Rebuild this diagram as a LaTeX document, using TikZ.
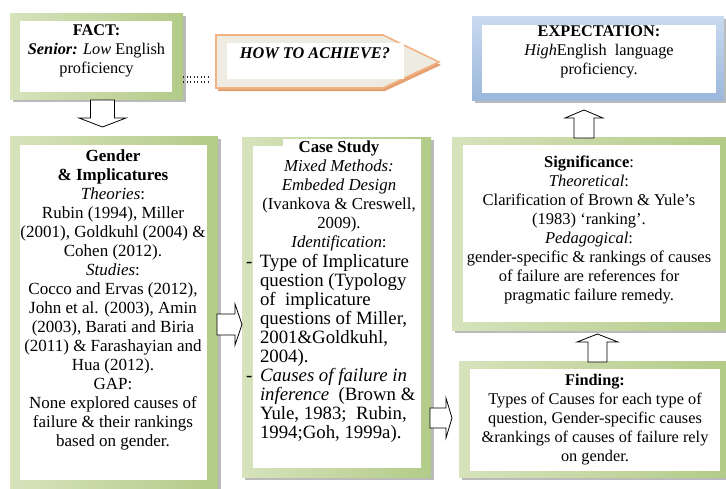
\documentclass[tikz,border=0pt]{standalone}
\usepackage{fontspec}
\setmainfont{Liberation Serif}
\usetikzlibrary{shadows,calc}

\definecolor{grnLight}{HTML}{D6E3BC}
\definecolor{grnDark}{HTML}{B3CB88}
\definecolor{bluLight}{HTML}{C9DAF0}
\definecolor{bluDark}{HTML}{9BB7DA}
\definecolor{orgLine}{HTML}{F4B183}
\definecolor{orgShadow}{HTML}{E6A172}
\definecolor{beige}{HTML}{EEECE1}

% a framed panel given by its corners
\newcommand\panel[6]{%
  \node[#6, minimum width={#4-#2}, minimum height={#5-#3}] (#1)
    at ({(#2+#4)/2},{(#3+#5)/2}) {};}

% a hollow block arrow: tail point, direction, length, shaft width, head width, head length
\newcommand\blockarrow[7]{%
  \begin{scope}[shift={(#1,#2)}, rotate=#3]
    \draw[fatarrow] (0,{-#5/2}) -- ({#4-#7},{-#5/2}) -- ({#4-#7},{-#6/2}) -- (#4,0)
      -- ({#4-#7},{#6/2}) -- ({#4-#7},{#5/2}) -- (0,{#5/2}) -- cycle;
  \end{scope}}

\begin{document}
\begin{tikzpicture}[x=1pt, y=-1pt,
  every node/.style={inner sep=0pt, outer sep=0pt, font=\fontsize{16.3}{19}\selectfont},
  greenframe/.style={draw=none, left color=grnLight, right color=grnDark,
    drop shadow={shadow xshift=2.5pt, shadow yshift=-3pt, fill=black!45, opacity=.6}},
  blueframe/.style={draw=none, top color=bluLight, bottom color=bluDark,
    drop shadow={shadow xshift=2.5pt, shadow yshift=-3pt, fill=black!45, opacity=.6}},
  whitepanel/.style={fill=white, draw=none},
  fatarrow/.style={draw=black, fill=white, line width=0.8pt, line join=miter},
  dotrow/.style={draw=black!85, line width=1.3pt, dash pattern=on 1.3pt off 2.2pt},
  txt/.style={align=center, anchor=north}]

\useasboundingbox (0,0) rectangle (726,488);

% ---- frames ----
\panel{fact}{10}{13}{183}{99}{greenframe}
\panel{factin}{20}{21}{172}{92}{whitepanel}

\panel{expect}{472}{16}{724}{100}{blueframe}
\panel{expectin}{482}{25}{716}{93}{whitepanel}

\panel{gender}{10}{136}{218}{492}{greenframe}
\panel{genderin}{20}{145}{207}{480}{whitepanel}

\panel{case}{242}{137}{431}{477}{greenframe}
\panel{casein}{253}{146}{421}{468}{whitepanel}
\panel{casehead}{283}{139}{421}{147}{whitepanel}

\panel{signif}{452}{137}{728}{330}{greenframe}
\panel{signifin}{463}{145}{720}{322}{whitepanel}

\panel{finding}{459}{361}{728}{477}{greenframe}
\panel{findingin}{470}{369}{720}{471}{whitepanel}

% ---- pentagon ----
\fill[orgShadow] (218,38) -- (385,38) -- (441,65) -- (385,91) -- (218,91) -- cycle;
\draw[orgLine, fill=beige, line width=1.6pt, line join=miter]
  (216,35) -- (383,35) -- (439,62) -- (383,88) -- (216,88) -- cycle;
\panel{howin}{227}{43}{404}{79}{whitepanel}
\coordinate (howwest) at (216,62);

% ---- dotted link ----
\draw[dotrow] ([yshift=-21pt]fact.east) -- ++(26,0);
\draw[dotrow] ([yshift=-26pt]fact.east) -- ++(26,0);

% ---- block arrows ----
\blockarrow{102.5}{100}{-90}{27}{24}{47}{9}
\blockarrow{217}{324.5}{0}{25}{21}{41}{7}
\blockarrow{430}{418}{0}{22}{20}{40}{6}
\blockarrow{584}{138}{90}{28}{20}{38}{8}
\blockarrow{597.5}{362}{90}{28}{19}{41}{8}

% ---- texts ----
\node[txt] (facttext) at (96.5,24.5)
  {\textbf{FACT:}\\ \textbf{\textit{Senior:}} \textit{Low} English\\ proficiency};

\node (howtext) at (315,53) {\textbf{\textit{HOW TO ACHIEVE?}}};

\node[txt] (expecttext) at (599,25.5)
  {\textbf{EXPECTATION:}\\ \textit{High}English\ \ language\\ proficiency.};

\node[txt, font=\fontsize{17}{19}\selectfont] (gendertext) at (113,149.5)
  {\textbf{Gender}\\ \textbf{\& Implicatures}\\ \textit{Theories}:\\ Rubin (1994), Miller\\
   (2001), Goldkuhl (2004) \&\\ Cohen (2012).\\ \textit{Studies}:\\ Cocco and Ervas (2012),\\
   John et al. (2003), Amin\\ (2003), Barati and Biria\\ (2011) \& Farashayian and\\
   Hua (2012).\\ GAP:\\ None explored causes of\\ failure \& their rankings\\ based on gender.};

\node[txt, font=\fontsize{16.8}{19}\selectfont] (casetext) at (339,140.5)
  {\textbf{Case Study}\\ \textit{Mixed Methods:}\\ \textit{Embeded Design}\\
   (Ivankova \& Creswell,\\ 2009).\\ \textit{Identification}:};

\node[anchor=north west, font=\fontsize{18.8}{19}\selectfont] (caselist) at (246,254)
  {\begin{tabular}{@{}p{14pt}@{}l@{}}
   - & Type of Implicature\\
     & question (Typology\\
     & of\ \ implicature\\
     & questions of Miller,\\
     & 2001\&Goldkuhl,\\
     & 2004).\\
   - & \textit{Causes of failure in}\\
     & \textit{inference}\ \ (Brown \&\\
     & Yule, 1983;\ \ Rubin,\\
     & 1994;Goh, 1999a).
   \end{tabular}};

\node[txt, font=\fontsize{16.5}{19}\selectfont] (signiftext) at (589,155.5)
  {\textbf{Significance}:\\ \textit{Theoretical}:\\ Clarification of Brown \& Yule’s\\
   (1983) ‘ranking’.\\ \textit{Pedagogical}:\\ gender-specific \& rankings of causes\\
   of failure are references for\\ pragmatic failure remedy.};

\node[txt] (findingtext) at (595,374.5)
  {\textbf{Finding:}\\ Types of Causes for each type of\\ question, Gender-specific causes\\
   \&rankings of causes of failure rely\\ on gender.};

\end{tikzpicture}
\end{document}
